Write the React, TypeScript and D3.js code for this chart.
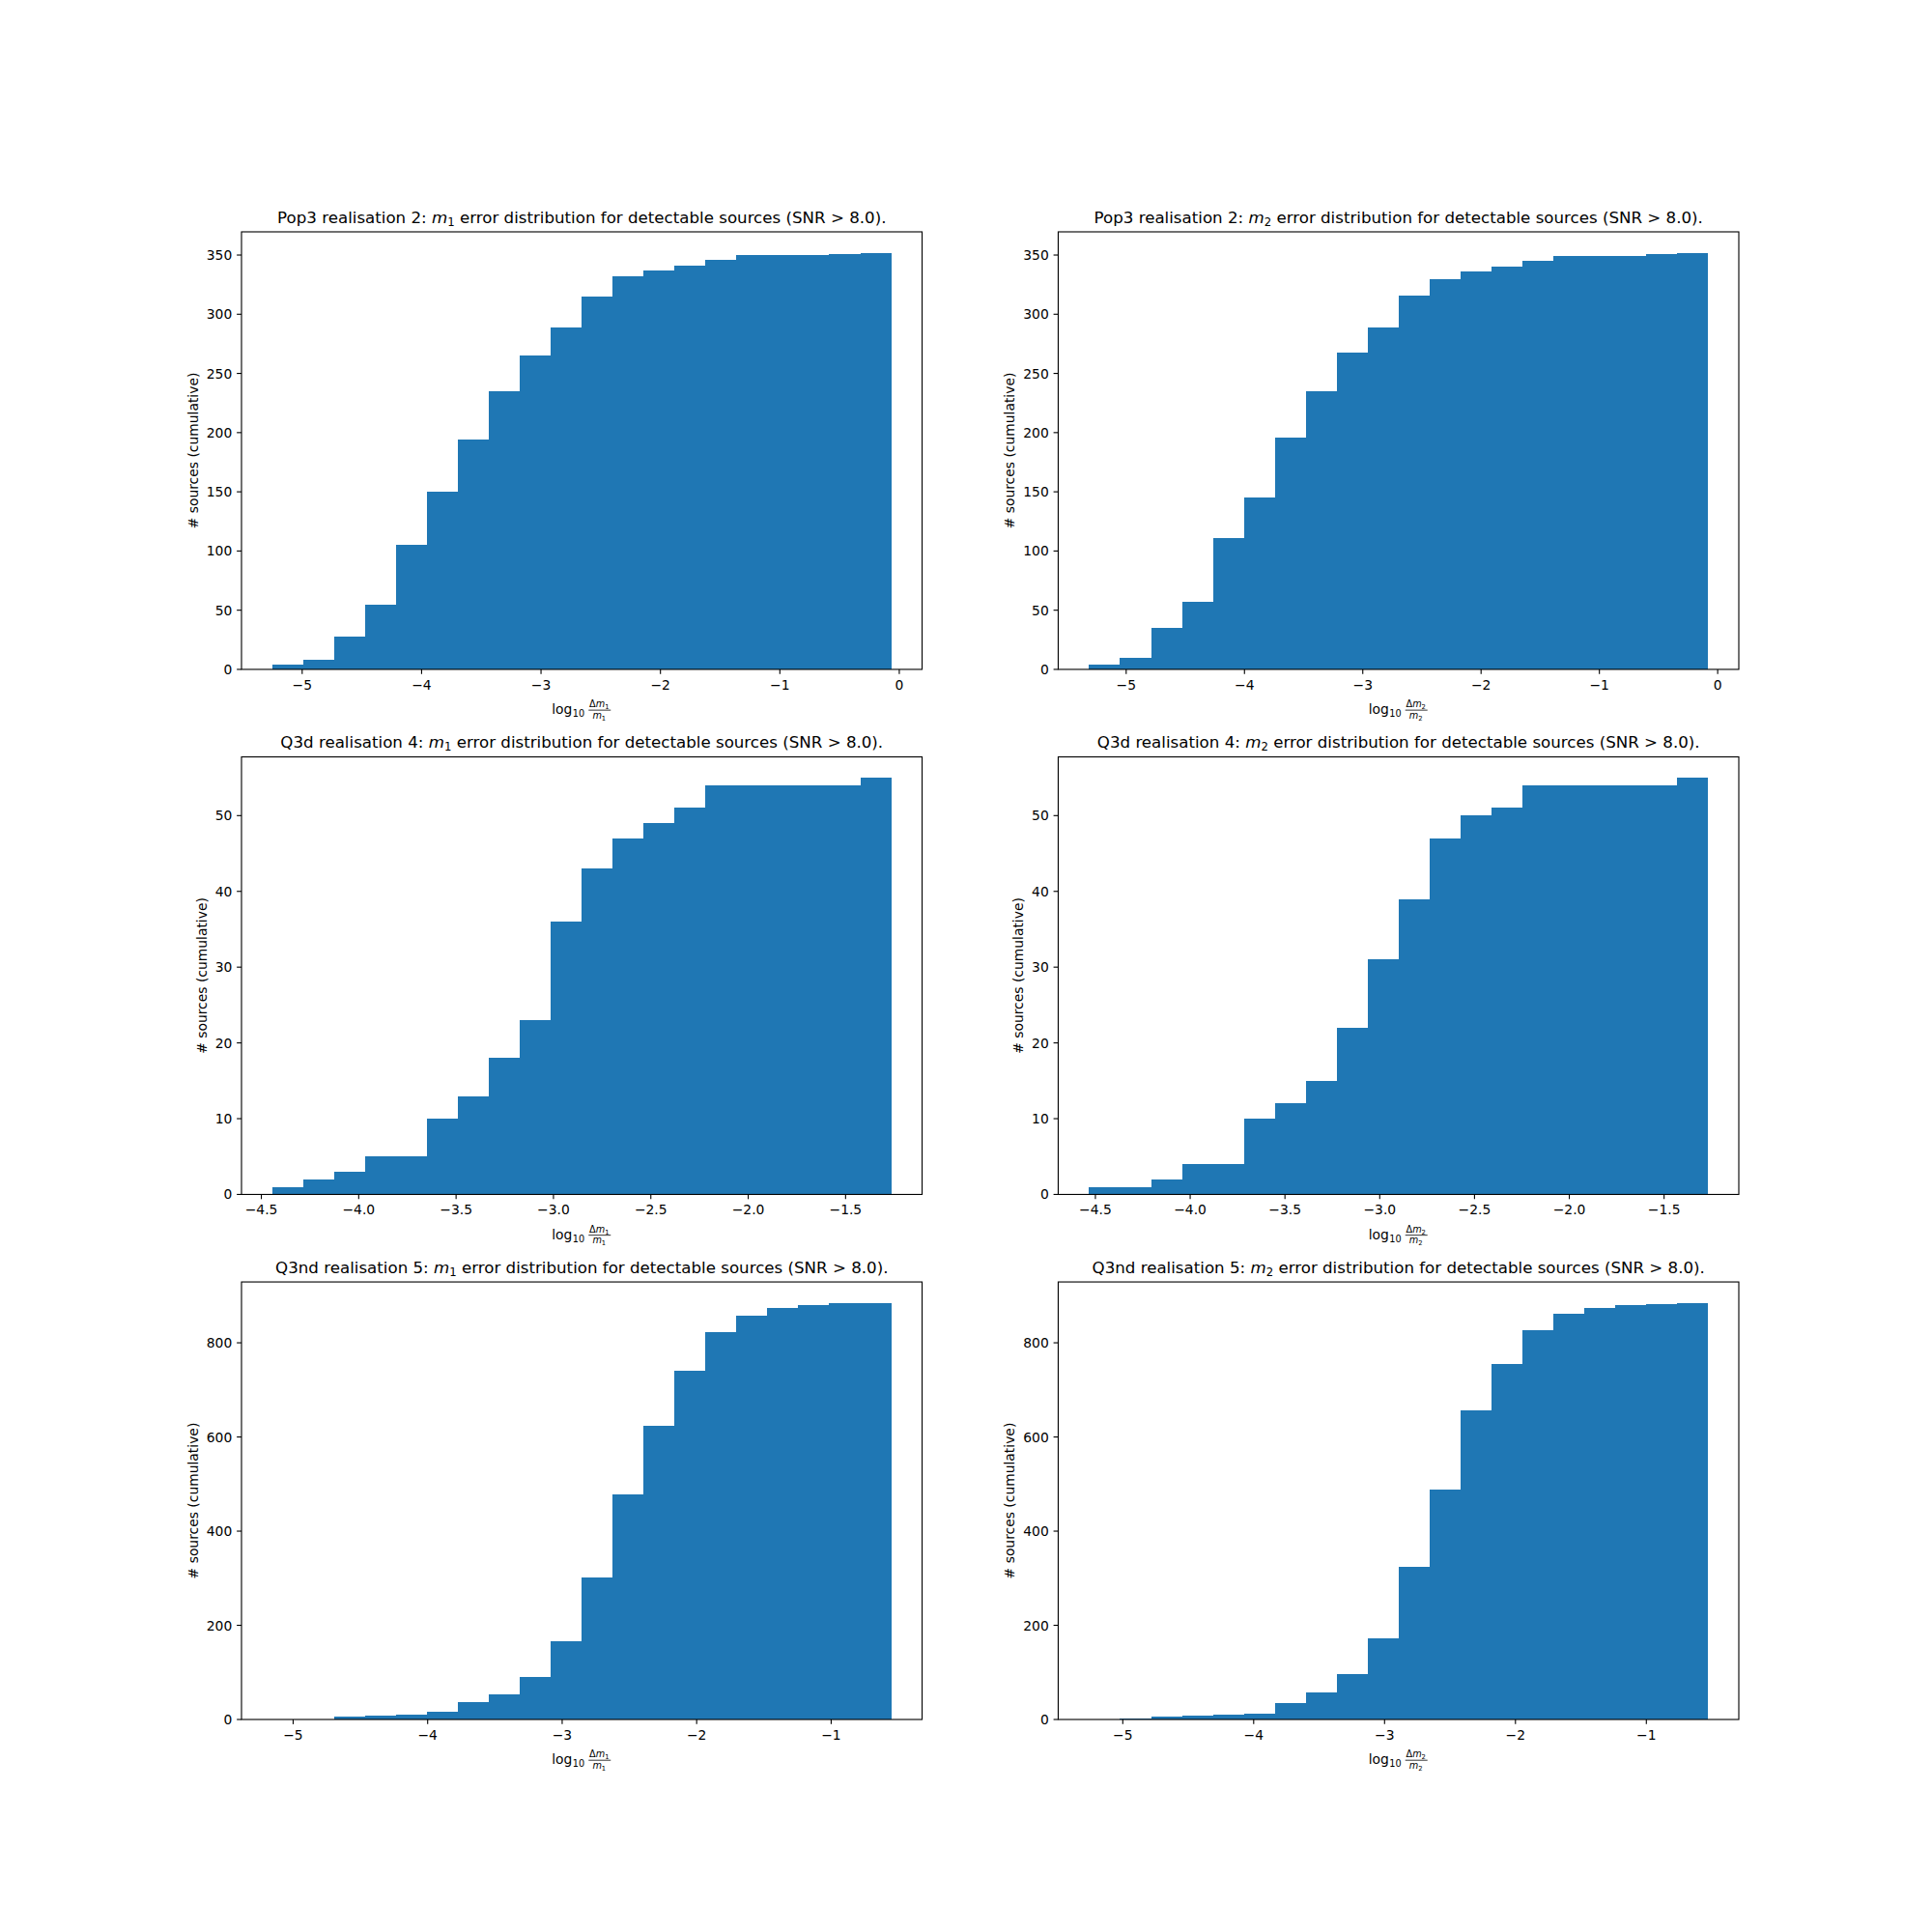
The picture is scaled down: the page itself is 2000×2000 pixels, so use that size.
import * as d3 from "d3";

const BLUE = "#1f77b4";
const FONT = "'DejaVu Sans', sans-serif";

// matplotlib default subplot grid on a 2000x2000 figure
const colX = [250, 1095.45];
const rowY = [240, 783.53, 1327.06];
const axW = 704.55;
const axH = 452.94;

// panel titles
const runNames = ["Pop3 realisation 2", "Q3d realisation 4", "Q3nd realisation 5"];

// histogram ranges (data min / max) and cumulative counts, 20 bins each
const pop3M1Range = [-5.249, -0.068];
const pop3M1Counts = [4, 8, 28, 55, 105, 150, 194, 235, 265, 289, 315, 332, 337, 341, 346, 350, 350, 350, 351, 352];
const pop3M2Range = [-5.313, -0.083];
const pop3M2Counts = [4, 10, 35, 57, 111, 145, 196, 235, 268, 289, 316, 330, 336, 340, 345, 349, 349, 349, 351, 352];

const q3dM1Range = [-4.443, -1.266];
const q3dM1Counts = [1, 2, 3, 5, 5, 10, 13, 18, 23, 36, 43, 47, 49, 51, 54, 54, 54, 54, 54, 55];
const q3dM2Range = [-4.533, -1.269];
const q3dM2Counts = [1, 1, 2, 4, 4, 10, 12, 15, 22, 31, 39, 47, 50, 51, 54, 54, 54, 54, 54, 55];

const q3ndM1Range = [-5.154, -0.554];
const q3ndM1Counts = [1, 1, 6, 9, 11, 17, 36, 54, 91, 167, 302, 477, 624, 741, 823, 858, 875, 880, 885, 885];
const q3ndM2Range = [-5.257, -0.53];
const q3ndM2Counts = [1, 3, 7, 9, 11, 13, 34, 58, 97, 173, 325, 489, 657, 755, 826, 862, 873, 881, 883, 885];

// tick values
const xTicksPop3 = [-5, -4, -3, -2, -1, 0];
const xTicksQ3d = [-4.5, -4, -3.5, -3, -2.5, -2, -1.5];
const xTicksQ3nd = [-5, -4, -3, -2, -1];
const yTicksPop3 = [0, 50, 100, 150, 200, 250, 300, 350];
const yTicksQ3d = [0, 10, 20, 30, 40, 50];
const yTicksQ3nd = [0, 200, 400, 600, 800];

const TICK = 4.86;
const PAD = 4.86;
const FS = 13.89;
const TITLE_FS = 16.67;

type PanelProps = {
  x: number;
  y: number;
  run: string;
  mass: string;
  range: number[];
  counts: number[];
  xTicks: number[];
  yTicks: number[];
  xFmt: (v: number) => string;
};

function Panel({ x, y, run, mass, range, counts, xTicks, yTicks, xFmt }: PanelProps) {
  const [lo, hi] = range;
  const n = counts.length;
  const step = (hi - lo) / n;
  const span = hi - lo;
  const xs = d3.scaleLinear().domain([lo - 0.05 * span, hi + 0.05 * span]).range([0, axW]);
  const ys = d3.scaleLinear().domain([0, (d3.max(counts) as number) * 1.05]).range([axH, 0]);
  const edges = d3.range(n + 1).map((i) => lo + i * step);
  const yFmt = d3.format("d");

  const maxChars = d3.max(yTicks, (t) => yFmt(t).length) as number;
  const yLabelX = -PAD - TICK - maxChars * 8.84 - 5.56 - 3.3;

  // x label pieces (log10 Δm/m)
  const cx = axW / 2;
  const by = axH + 46.5;
  const x0 = cx - 31;
  const sub = FS * 0.7;

  return (
    <g transform={`translate(${x},${y})`}>
      {counts.map((c, i) => (
        <rect
          key={i}
          x={xs(edges[i])}
          width={xs(edges[i + 1]) - xs(edges[i])}
          y={ys(c)}
          height={axH - ys(c)}
          fill={BLUE}
          shapeRendering="crispEdges"
        />
      ))}
      <rect x={0} y={0} width={axW} height={axH} fill="none" stroke="#000" strokeWidth={1.11} />

      {xTicks.map((t) => (
        <g key={t} transform={`translate(${xs(t)},${axH})`}>
          <line y2={TICK} stroke="#000" strokeWidth={1.11} />
          <text y={21} textAnchor="middle" fontSize={FS} fontFamily={FONT}>
            {xFmt(t)}
          </text>
        </g>
      ))}
      {yTicks.map((t) => (
        <g key={t} transform={`translate(0,${ys(t)})`}>
          <line x2={-TICK} stroke="#000" strokeWidth={1.11} />
          <text x={-TICK - PAD} y={5} textAnchor="end" fontSize={FS} fontFamily={FONT}>
            {yFmt(t)}
          </text>
        </g>
      ))}

      <text
        transform={`translate(${yLabelX},${axH / 2}) rotate(-90)`}
        textAnchor="middle"
        fontSize={FS}
        fontFamily={FONT}
      >
        # sources (cumulative)
      </text>

      <text x={axW / 2} y={-9.5} textAnchor="middle" fontSize={TITLE_FS} fontFamily={FONT}>
        <tspan>{run}: </tspan>
        <tspan fontStyle="italic">m</tspan>
        <tspan fontSize={TITLE_FS * 0.7} dy={3.2}>{mass}</tspan>
        <tspan dy={-3.2}> error distribution for detectable sources (SNR &gt; 8.0).</tspan>
      </text>

      <g fontFamily={FONT}>
        <text x={x0} y={by} fontSize={FS}>log</text>
        <text x={x0 + 21.5} y={by + 3} fontSize={sub}>10</text>
        <text x={x0 + 49} y={by - 7} fontSize={sub} textAnchor="middle">
          <tspan>Δ</tspan>
          <tspan fontStyle="italic">m</tspan>
          <tspan fontSize={sub * 0.7} dy={2}>{mass}</tspan>
        </text>
        <line x1={x0 + 38} x2={x0 + 61} y1={by - 4.3} y2={by - 4.3} stroke="#000" strokeWidth={0.8} />
        <text x={x0 + 49} y={by + 4.5} fontSize={sub} textAnchor="middle">
          <tspan fontStyle="italic">m</tspan>
          <tspan fontSize={sub * 0.7} dy={2}>{mass}</tspan>
        </text>
      </g>
    </g>
  );
}

export default function App() {
  const intFmt = d3.format("d");
  const oneFmt = d3.format(".1f");
  const panels = [
    { run: runNames[0], range: pop3M1Range, counts: pop3M1Counts, xTicks: xTicksPop3, yTicks: yTicksPop3, xFmt: intFmt },
    { run: runNames[0], range: pop3M2Range, counts: pop3M2Counts, xTicks: xTicksPop3, yTicks: yTicksPop3, xFmt: intFmt },
    { run: runNames[1], range: q3dM1Range, counts: q3dM1Counts, xTicks: xTicksQ3d, yTicks: yTicksQ3d, xFmt: oneFmt },
    { run: runNames[1], range: q3dM2Range, counts: q3dM2Counts, xTicks: xTicksQ3d, yTicks: yTicksQ3d, xFmt: oneFmt },
    { run: runNames[2], range: q3ndM1Range, counts: q3ndM1Counts, xTicks: xTicksQ3nd, yTicks: yTicksQ3nd, xFmt: intFmt },
    { run: runNames[2], range: q3ndM2Range, counts: q3ndM2Counts, xTicks: xTicksQ3nd, yTicks: yTicksQ3nd, xFmt: intFmt },
  ];

  return (
    <div style={{ position: "absolute", left: 0, top: 0 }}>
      <svg width={2000} height={2000} style={{ display: "block", background: "#fff" }}>
        <rect width={2000} height={2000} fill="#fff" />
        {panels.map((p, i) => (
          <Panel
            key={i}
            x={colX[i % 2]}
            y={rowY[Math.floor(i / 2)]}
            mass={String((i % 2) + 1)}
            {...p}
          />
        ))}
      </svg>
    </div>
  );
}
